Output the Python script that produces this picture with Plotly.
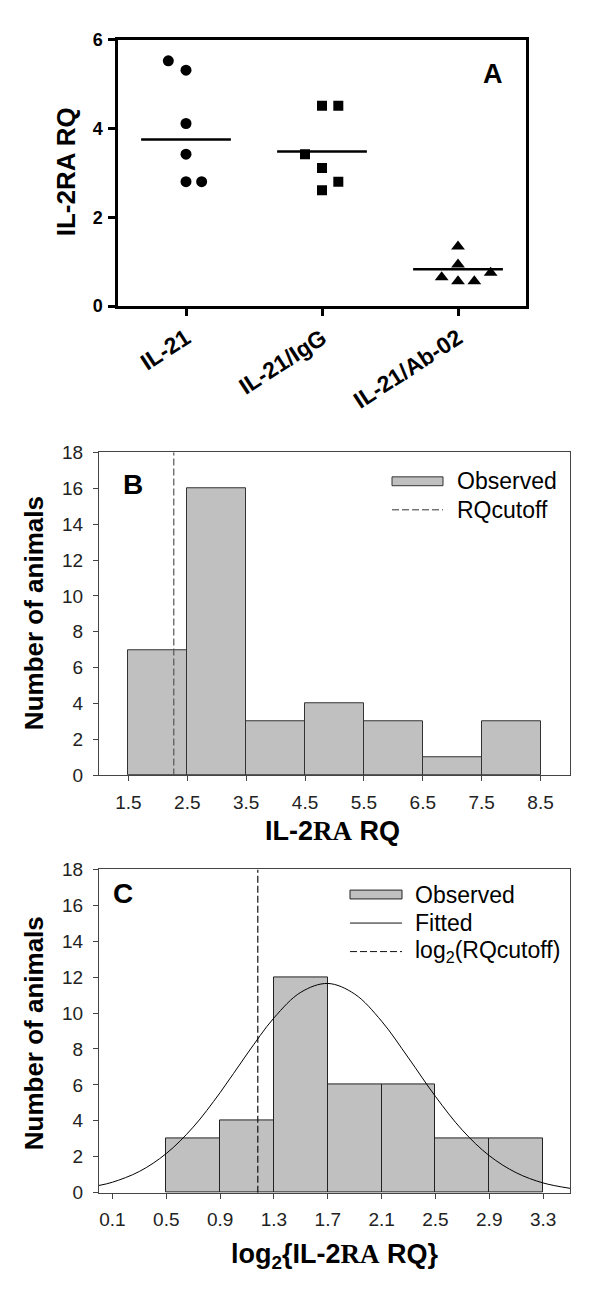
import plotly.graph_objects as go

# ---------------- data ----------------
# Panel A: IL-2RA RQ by treatment group
groups = ["IL-21", "IL-21/IgG", "IL-21/Ab-02"]
il21 = [5.52, 5.31, 4.11, 3.42, 2.80, 2.80]
il21_igg = [4.51, 4.51, 3.42, 3.11, 2.80, 2.61]
il21_ab02 = [1.34, 0.94, 0.65, 0.56, 0.56, 0.75]
group_lines = [3.75, 3.48, 0.83]
# horizontal spread of the dots inside each group (category units)
il21_dx = [-0.13, 0.0, 0.0, 0.0, 0.0, 0.115]
il21_igg_dx = [0.0, 0.12, -0.125, 0.0, 0.12, 0.0]
il21_ab02_dx = [0.0, 0.0, -0.12, 0.0, 0.12, 0.24]

# Panel B: histogram of IL-2RA RQ
rq_edges = [1.5, 2.5, 3.5, 4.5, 5.5, 6.5, 7.5, 8.5]
rq_counts = [7, 16, 3, 4, 3, 1, 3]
rq_cutoff = 2.27
rq_ticks = [1.5, 2.5, 3.5, 4.5, 5.5, 6.5, 7.5, 8.5]

# Panel C: histogram of log2(IL-2RA RQ) with fitted curve
log_edges = [0.5, 0.9, 1.3, 1.7, 2.1, 2.5, 2.9, 3.3]
log_counts = [3, 4, 12, 6, 6, 3, 3]
log_cutoff = 1.18
log_ticks = [0.1, 0.5, 0.9, 1.3, 1.7, 2.1, 2.5, 2.9, 3.3]
fit_x = [0.0, 0.1, 0.3, 0.5, 0.7, 0.9, 1.1, 1.3, 1.5, 1.7, 1.9, 2.1, 2.3, 2.5,
         2.7, 2.9, 3.1, 3.3, 3.5]
fit_y = [0.40, 0.58, 1.18, 2.18, 3.65, 5.57, 7.72, 9.73, 11.16, 11.65, 11.06,
         9.55, 7.50, 5.36, 3.48, 2.06, 1.11, 0.54, 0.24]

count_ticks = list(range(0, 19, 2))

# ---------------- layout helpers ----------------
W, H = 600, 1304
FONT = "Liberation Sans, Arial, sans-serif"


def xd(a, b):
    return [a / W, b / W]


def yd(top, bottom):
    return [1 - bottom / H, 1 - top / H]


def px(x):
    return x / W


def py(y):
    return 1 - y / H


fig = go.Figure()

# ---------------- Panel A ----------------
sym = ["circle", "square", "triangle-up"]
sizes = [11, 10, 12]
for gi, (vals, dx) in enumerate([(il21, il21_dx), (il21_igg, il21_igg_dx),
                                 (il21_ab02, il21_ab02_dx)]):
    fig.add_trace(go.Scatter(
        x=[gi + d for d in dx], y=vals, mode="markers",
        marker=dict(symbol=sym[gi], size=sizes[gi], color="black", line=dict(width=0)),
        xaxis="x", yaxis="y", showlegend=False, name=groups[gi]))
half = 0.33
for gi, v in enumerate(group_lines):
    fig.add_trace(go.Scatter(
        x=[gi - half, gi + half], y=[v, v], mode="lines",
        line=dict(color="black", width=2.5),
        xaxis="x", yaxis="y", showlegend=False, hoverinfo="skip"))

# ---------------- Panel B ----------------
b_centers = [(rq_edges[i] + rq_edges[i + 1]) / 2 for i in range(len(rq_counts))]
b_widths = [rq_edges[i + 1] - rq_edges[i] for i in range(len(rq_counts))]
fig.add_trace(go.Bar(
    x=b_centers, y=rq_counts, width=b_widths,
    marker=dict(color="#c0c0c0", line=dict(color="#333333", width=1)),
    xaxis="x2", yaxis="y2", showlegend=False, name="Observed"))
fig.add_trace(go.Scatter(
    x=[rq_cutoff, rq_cutoff], y=[0, 18], mode="lines",
    line=dict(color="#555555", width=1.2, dash="7px,3px"),
    xaxis="x2", yaxis="y2", showlegend=False, name="RQcutoff"))

# ---------------- Panel C ----------------
c_centers = [(log_edges[i] + log_edges[i + 1]) / 2 for i in range(len(log_counts))]
c_widths = [log_edges[i + 1] - log_edges[i] for i in range(len(log_counts))]
fig.add_trace(go.Bar(
    x=c_centers, y=log_counts, width=c_widths,
    marker=dict(color="#c0c0c0", line=dict(color="#222222", width=1)),
    xaxis="x3", yaxis="y3", showlegend=False, name="Observed"))
fig.add_trace(go.Scatter(
    x=[log_cutoff, log_cutoff], y=[0, 18], mode="lines",
    line=dict(color="#111111", width=1.2, dash="7px,3px"),
    xaxis="x3", yaxis="y3", showlegend=False, name="log2(RQcutoff)"))
fig.add_trace(go.Scatter(
    x=fit_x, y=fit_y, mode="lines", line=dict(color="black", width=1, shape="spline"),
    xaxis="x3", yaxis="y3", showlegend=False, name="Fitted"))

# ---------------- axes ----------------
axA = dict(showline=True, linewidth=2.5, linecolor="black", mirror=True,
           ticks="outside", ticklen=7, tickwidth=2.5, tickcolor="black",
           showgrid=False, zeroline=False)
fig.update_layout(
    xaxis=dict(domain=xd(118, 526), range=[-0.5, 2.5], tickvals=[0, 1, 2],
               ticktext=groups, tickangle=-33,
               tickfont=dict(family=FONT, size=23, color="black", weight="bold"),
               anchor="y", **axA),
    yaxis=dict(domain=yd(30, 301), range=[0, 6], tickvals=[0, 2, 4, 6],
               tickfont=dict(family=FONT, size=18, color="black", weight="bold"),
               ticklabelstandoff=2, anchor="x", **axA),
)

axBC = dict(showline=True, linewidth=1, linecolor="#444444", mirror=True,
            ticks="outside", ticklen=5, tickwidth=1, tickcolor="#444444",
            showgrid=False, zeroline=False,
            tickfont=dict(family=FONT, size=19, color="#222222"))
fig.update_layout(
    xaxis2=dict(domain=xd(99, 570), range=[1, 9], tickvals=rq_ticks,
                ticktext=[f"{t:.1f}" for t in rq_ticks], anchor="y2",
                ticklabelstandoff=5, **axBC),
    yaxis2=dict(domain=yd(449.5, 778), range=[0, 18], tickvals=count_ticks,
                anchor="x2", ticklabelstandoff=6, **axBC),
    xaxis3=dict(domain=xd(99, 570), range=[0, 3.5], tickvals=log_ticks,
                ticktext=[f"{t:.1f}" for t in log_ticks], anchor="y3",
                ticklabelstandoff=5, **axBC),
    yaxis3=dict(domain=yd(873.5, 1202), range=[0, 18], tickvals=count_ticks,
                anchor="x3", ticklabelstandoff=6, **axBC),
)

# ---------------- text ----------------
ann = []


def text(x, y, s, size, bold=True, angle=0, xanchor="center", color="black"):
    ann.append(dict(x=px(x), y=py(y), xref="paper", yref="paper", text=s,
                    showarrow=False, textangle=angle, xanchor=xanchor, yanchor="middle",
                    font=dict(family=FONT, size=size, color=color,
                              weight="bold" if bold else "normal")))


SERIF = "<span style=\"font-family:'Liberation Serif',serif\">RA</span>"
text(66, 165, "IL-2RA RQ", 26, angle=-90)
text(493, 65, "A", 27)

text(34, 613, "Number of animals", 26, angle=-90)
text(332, 834, "IL-2" + SERIF + " RQ", 27)
text(133, 482, "B", 28)
text(455, 479, "Observed", 23, bold=False, xanchor="left")
text(455, 508, "RQcutoff", 23, bold=False, xanchor="left")

text(34, 1040, "Number of animals", 26, angle=-90)
text(335, 1266, "log<sub>2</sub>{IL-2" + SERIF + " RQ}", 27)
text(123, 898, "C", 28)
text(413, 899, "Observed", 23, bold=False, xanchor="left")
text(413, 928, "Fitted", 23, bold=False, xanchor="left")
text(413, 957, "log<sub>2</sub>(RQcutoff)", 23, bold=False, xanchor="left")

# legend keys
shapes = [
    dict(type="rect", xref="paper", yref="paper", x0=px(392), x1=px(443),
         y0=py(483.5), y1=py(474.5), fillcolor="#c0c0c0", line=dict(color="#333333", width=1)),
    dict(type="line", xref="paper", yref="paper", x0=px(392), x1=px(443),
         y0=py(508), y1=py(508), line=dict(color="#333333", width=1, dash="7px,3px")),
    dict(type="rect", xref="paper", yref="paper", x0=px(350), x1=px(402),
         y0=py(903.5), y1=py(894.5), fillcolor="#c0c0c0", line=dict(color="#222222", width=1)),
    dict(type="line", xref="paper", yref="paper", x0=px(350), x1=px(402),
         y0=py(928), y1=py(928), line=dict(color="#111111", width=1)),
    dict(type="line", xref="paper", yref="paper", x0=px(350), x1=px(402),
         y0=py(957), y1=py(957), line=dict(color="#111111", width=1, dash="7px,3px")),
]

fig.update_layout(
    width=W, height=H, margin=dict(l=0, r=0, t=0, b=0),
    paper_bgcolor="white", plot_bgcolor="white",
    annotations=ann, shapes=shapes, showlegend=False, bargap=0,
    font=dict(family=FONT),
)

fig.write_html("out.html", config={"displayModeBar": False},
               post_script="document.body.style.margin='0';")
